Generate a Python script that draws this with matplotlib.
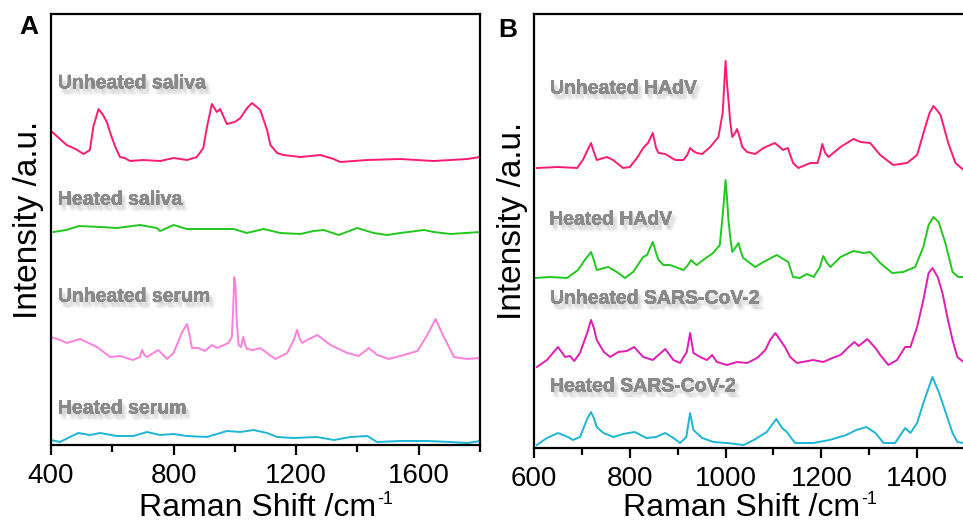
import matplotlib
matplotlib.use("Agg")
import matplotlib.pyplot as plt
import matplotlib.patheffects as pe
from matplotlib.ticker import MultipleLocator

plt.rcParams['font.family'] = ['Liberation Sans', 'DejaVu Sans']

# ---- panel A : saliva / serum (intensity in a.u., offset stacked) ----
salivaUnheatedX = [400, 451, 480, 506, 527, 538, 555, 570, 582, 598, 610, 625, 640, 658, 700, 756,
                   800, 844, 876, 897, 909, 925, 941, 952, 974, 1000, 1018, 1040, 1056, 1083, 1105,
                   1116, 1138, 1158, 1214, 1279, 1322, 1344, 1432, 1540, 1648, 1759, 1800]
salivaUnheatedY = [314, 300, 296, 291, 295, 318, 336, 330, 323, 308, 298, 288, 287, 284, 285, 284,
                   287, 285, 288, 297, 318, 341, 333, 336, 321, 323, 327, 337, 342, 335, 315,
                   300, 292, 290, 288, 290, 286, 283, 285, 286, 284, 286, 288]

salivaHeatedX = [408, 450, 492, 560, 615, 691, 745, 756, 800, 843, 930, 996, 1039, 1094, 1148, 1214,
                 1257, 1290, 1339, 1399, 1453, 1497, 1540, 1617, 1649, 1704, 1802]
salivaHeatedY = [213, 215, 219, 218, 217, 220, 217, 214, 220, 216, 216, 216, 212, 216, 212, 211,
                 214, 215, 210, 217, 212, 210, 212, 215, 213, 211, 213]

serumUnheatedX = [400, 429, 452, 495, 550, 593, 625, 668, 690, 697, 705, 713, 750, 779, 800, 828, 844,
                  852, 860, 880, 903, 925, 942, 979, 990, 995, 998, 1002, 1006, 1012, 1020, 1027,
                  1034, 1040, 1060, 1083, 1105, 1132, 1171, 1192, 1203, 1212, 1220, 1236, 1269, 1312,
                  1367, 1404, 1437, 1465, 1502, 1540, 1596, 1628, 1655, 1682, 1715, 1759, 1800]
serumUnheatedY = [108, 105, 102, 106, 98, 88, 89, 85, 88, 95, 90, 88, 95, 86, 92, 113, 121,
                  110, 97, 97, 94, 100, 97, 102, 108, 140, 168, 160, 125, 100, 98, 108,
                  100, 96, 95, 97, 92, 86, 92, 105, 115, 106, 102, 105, 110, 100,
                  92, 89, 97, 90, 86, 89, 94, 110, 126, 108, 88, 86, 87]

serumHeatedX = [400, 429, 489, 527, 560, 615, 669, 713, 756, 800, 843, 909, 974, 1018, 1061, 1105,
                1138, 1192, 1268, 1323, 1377, 1432, 1464, 1540, 1628, 1704, 1758, 1802]
serumHeatedY = [5, 3, 12, 10, 12, 9, 9, 13, 10, 11, 9, 8, 14, 13, 15, 12,
                8, 7, 8, 5, 8, 9, 3, 4, 4, 3, 2, 4]

# ---- panel B : HAdV / SARS-CoV-2 ----
hadvUnheatedX = [606, 650, 690, 702, 712, 719, 725, 731, 752, 765, 786, 800, 815, 828, 838, 848, 855,
                 860, 874, 895, 912, 920, 926, 932, 940, 951, 968, 985, 994, 998, 1000, 1003, 1006,
                 1010, 1014, 1020, 1024, 1030, 1035, 1045, 1062, 1079, 1103, 1120, 1130, 1141, 1152,
                 1177, 1192, 1197, 1202, 1208, 1215, 1240, 1267, 1282, 1302, 1323, 1350, 1379, 1400,
                 1417, 1426, 1434, 1441, 1449, 1465, 1480, 1497]
hadvUnheatedY = [280, 281, 280, 288, 298, 305, 296, 288, 291, 288, 280, 281, 290, 300, 305, 315, 300,
                 295, 294, 288, 288, 293, 300, 297, 295, 294, 301, 311, 335, 370, 387, 365, 348,
                 325, 311, 315, 319, 310, 301, 296, 294, 300, 305, 298, 300, 285, 280,
                 285, 285, 293, 304, 295, 291, 301, 309, 306, 305, 293, 283, 285, 293,
                 321, 335, 342, 338, 333, 305, 285, 278]

hadvHeatedX = [602, 633, 669, 692, 706, 719, 725, 731, 755, 773, 790, 807, 828, 836, 848, 855, 860,
               870, 884, 912, 920, 928, 934, 940, 953, 974, 988, 995, 1000, 1003, 1006, 1010, 1014,
               1020, 1027, 1032, 1037, 1062, 1079, 1107, 1124, 1131, 1141, 1155, 1170, 1184, 1197,
               1204, 1212, 1219, 1240, 1267, 1288, 1302, 1323, 1348, 1371, 1396, 1413, 1424, 1434,
               1445, 1459, 1474, 1486, 1497]
hadvHeatedY = [170, 171, 170, 178, 188, 196, 188, 178, 181, 176, 170, 176, 191, 193, 206, 195, 188,
               183, 183, 178, 182, 188, 185, 183, 188, 195, 203, 238, 268, 250, 228, 210, 196,
               200, 205, 196, 190, 181, 186, 193, 188, 186, 171, 170, 174, 171, 181,
               192, 185, 181, 191, 197, 195, 196, 185, 175, 176, 181, 201, 223, 231,
               226, 205, 176, 171, 171]

sarsUnheatedX = [606, 627, 650, 665, 675, 684, 696, 711, 719, 725, 731, 746, 759, 776, 794, 809, 828,
                 848, 860, 874, 891, 905, 919, 926, 933, 947, 961, 972, 982, 1003, 1024, 1045, 1066,
                 1083, 1093, 1104, 1114, 1124, 1135, 1149, 1183, 1204, 1223, 1240, 1257, 1269, 1278,
                 1296, 1313, 1323, 1340, 1358, 1375, 1386, 1400, 1413, 1424, 1432, 1443, 1453, 1463,
                 1474, 1484, 1497]
sarsUnheatedY = [81, 88, 101, 91, 92, 87, 95, 115, 128, 120, 108, 96, 91, 96, 97, 101, 91,
                 88, 93, 99, 88, 85, 96, 115, 95, 91, 88, 93, 86, 83, 86, 85, 90,
                 98, 108, 115, 108, 101, 91, 85, 88, 86, 90, 93, 101, 106, 102,
                 109, 100, 93, 83, 88, 101, 101, 121, 148, 175, 180, 171, 155, 131,
                 108, 91, 86]

sarsHeatedX = [606, 627, 650, 671, 681, 696, 711, 719, 725, 731, 745, 766, 786, 810, 835, 855, 874,
               891, 905, 918, 926, 933, 951, 975, 1003, 1038, 1059, 1086, 1106, 1118, 1128, 1145,
               1183, 1217, 1252, 1273, 1294, 1313, 1330, 1354, 1368, 1375, 1386, 1400, 1413, 1432,
               1446, 1460, 1474, 1484, 1497]
sarsHeatedY = [3, 10, 15, 11, 8, 11, 29, 36, 30, 21, 15, 11, 14, 16, 10, 11, 15,
               10, 5, 11, 35, 18, 10, 6, 5, 3, 8, 16, 29, 20, 16, 5,
               5, 8, 13, 18, 21, 15, 5, 5, 15, 20, 15, 25, 45, 71,
               55, 35, 15, 6, 5]

PINK = '#ff1a72'
GREEN = '#22c81e'
LIGHTPINK = '#ff80dc'
CYAN = '#1eb6d4'
MAGENTA = '#e01cb4'

W, H = 963, 523
fig = plt.figure(figsize=(W / 100, H / 100), dpi=100)
axA = fig.add_axes([51 / W, 78 / H, 429 / W, 431 / H])
axB = fig.add_axes([534 / W, 75 / H, 431 / W, 434 / H])

# soft blurred drop shadow built from a few faint offset copies
shadow = [pe.withSimplePatchShadow(offset=(dx, dy), shadow_rgbFace='#808080', alpha=0.07)
          for dx, dy in [(1, -2), (2, -2), (3, -3), (2, -4), (4, -4), (3, -5), (1, -4), (4, -2)]]
shadow = [p for p in shadow[:-1]] + [pe.Normal()]


def styleAxes(ax, xlim, major, minor, ylim):
    ax.set_xlim(*xlim)
    ax.set_ylim(*ylim)
    ax.xaxis.set_major_locator(MultipleLocator(major))
    ax.xaxis.set_minor_locator(MultipleLocator(minor))
    ax.set_yticks([])
    for s in ax.spines.values():
        s.set_linewidth(1.6)
    ax.tick_params(axis='x', which='major', length=7, width=1.6, labelsize=20, pad=6)
    ax.tick_params(axis='x', which='minor', length=5, width=1.6)


def grayLabel(ax, x, y, s):
    ax.text(x, y, s, transform=ax.transAxes, fontsize=14, fontweight='bold', color='#8a8a8a',
            va='center', ha='left', path_effects=shadow)


lw = 1.4
axA.plot(salivaUnheatedX, salivaUnheatedY, color=PINK, lw=lw)
axA.plot(salivaHeatedX, salivaHeatedY, color=GREEN, lw=lw)
axA.plot(serumUnheatedX, serumUnheatedY, color=LIGHTPINK, lw=lw)
axA.plot(serumHeatedX, serumHeatedY, color=CYAN, lw=lw)
styleAxes(axA, (400, 1800), 400, 200, (0, 431))
grayLabel(axA, 0.016, 0.838, 'Unheated saliva')
grayLabel(axA, 0.016, 0.568, 'Heated saliva')
grayLabel(axA, 0.016, 0.343, 'Unheated serum')
grayLabel(axA, 0.016, 0.0835, 'Heated serum')

axB.plot(hadvUnheatedX, hadvUnheatedY, color=PINK, lw=lw)
axB.plot(hadvHeatedX, hadvHeatedY, color=GREEN, lw=lw)
axB.plot(sarsUnheatedX, sarsUnheatedY, color=MAGENTA, lw=lw)
axB.plot(sarsHeatedX, sarsHeatedY, color=CYAN, lw=lw)
styleAxes(axB, (600, 1500), 200, 100, (0, 434))
grayLabel(axB, 0.037, 0.827, 'Unheated HAdV')
grayLabel(axB, 0.035, 0.525, 'Heated HAdV')
grayLabel(axB, 0.037, 0.343, 'Unheated SARS-CoV-2')
grayLabel(axB, 0.037, 0.1406, 'Heated SARS-CoV-2')

fig.text(29 / W, 1 - 220 / H, 'Intensity /a.u.', rotation=90, fontsize=24, ha='center', va='center')
fig.text(512 / W, 1 - 221 / H, 'Intensity /a.u.', rotation=90, fontsize=24, ha='center', va='center')
fig.text(29 / W, 1 - 27 / H, 'A', fontsize=19, fontweight='bold', ha='center', va='center')
fig.text(508 / W, 1 - 30 / H, 'B', fontsize=19, fontweight='bold', ha='center', va='center')

# x labels with a small "-1" superscript
fig.canvas.draw()
renderer = fig.canvas.get_renderer()
for cx in [257.5, 742]:
    t = fig.text(cx / W, 7 / H, 'Raman Shift /cm', fontsize=23, ha='center', va='baseline')
    bb = t.get_window_extent(renderer)
    fig.text((bb.x1 + 1) / W, 32 / H, '-1', fontsize=13, ha='left', va='top')

fig.savefig('out.png', dpi=100)
